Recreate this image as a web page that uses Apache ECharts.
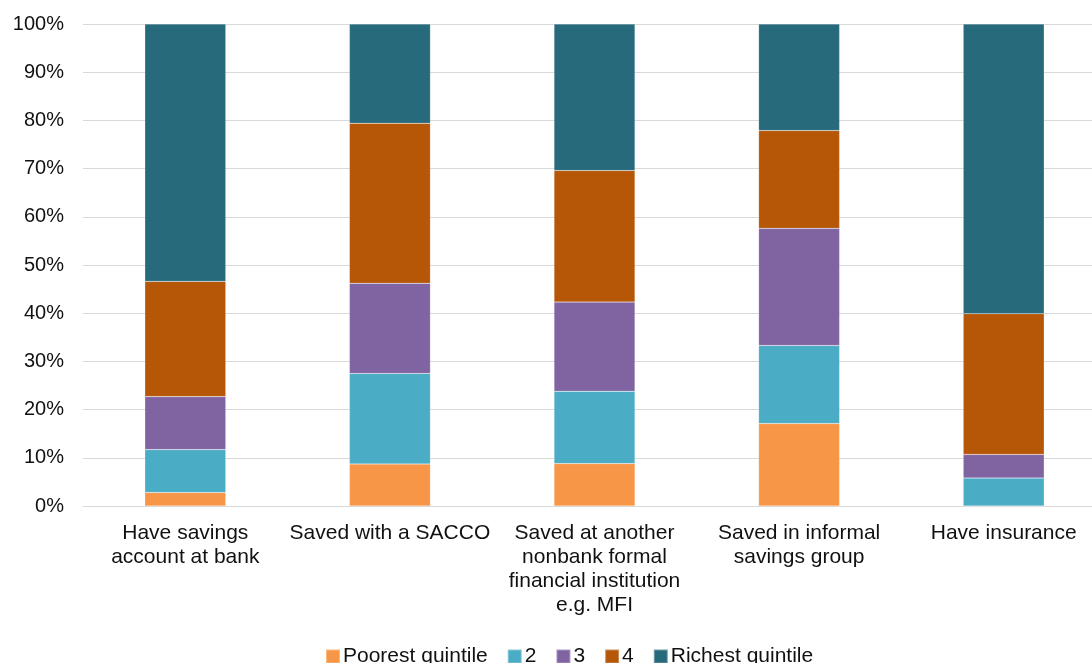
<!DOCTYPE html>
<html>
<head>
<meta charset="utf-8">
<script src="https://cdn.jsdelivr.net/npm/echarts@6/dist/echarts.min.js"></script>
<style>
html,body{margin:0;padding:0;background:#fff;}
#chart{width:1092px;height:663px;}
</style>
</head>
<body>
<div id="chart"></div>
<script>
const categories = [
  "Have savings\naccount at bank",
  "Saved with a SACCO",
  "Saved at another\nnonbank formal\nfinancial institution\ne.g. MFI",
  "Saved in informal\nsavings group",
  "Have insurance"
];
const seriesNames = ["Poorest quintile", "2", "3", "4", "Richest quintile"];
const poorest = [2.8, 8.7, 8.8, 17.1, 0];
const q2 = [8.9, 18.8, 15.0, 16.2, 5.8];
const q3 = [11.0, 18.7, 18.5, 24.3, 4.9];
const q4 = [23.9, 33.2, 27.3, 20.3, 29.2];
const richest = [53.4, 20.6, 30.4, 22.1, 60.1];
const colors = ["#F79646", "#4BACC6", "#8064A2", "#B65708", "#276A7C"];

const data = [poorest, q2, q3, q4, richest];
const chart = echarts.init(document.getElementById('chart'), null, {renderer: 'canvas'});
chart.setOption({
  animation: false,
  backgroundColor: '#fff',
  textStyle: {fontFamily: 'Liberation Sans, Arial, sans-serif'},
  grid: {left: 83, top: 24, width: 1023, bottom: 157, containLabel: false, outerBoundsMode: 'none'},
  legend: {
    top: 646,
    left: 325,
    padding: 0,
    itemWidth: 14,
    itemHeight: 14,
    itemGap: 19,
    icon: 'rect',
    textStyle: {fontSize: 21, color: '#111', padding: [0, 0, 0, -2]},
    data: seriesNames
  },
  xAxis: {
    type: 'category',
    data: categories,
    axisLine: {show: true, lineStyle: {color: '#d9d9d9', width: 1}},
    axisTick: {show: false},
    axisLabel: {fontSize: 21, color: '#111', lineHeight: 24, margin: 15, interval: 0}
  },
  yAxis: {
    type: 'value',
    min: 0,
    max: 100,
    interval: 10,
    axisLine: {show: false},
    axisTick: {show: false},
    splitLine: {lineStyle: {color: '#d9d9d9', width: 1}},
    axisLabel: {fontSize: 20, color: '#111', margin: 19, formatter: '{value}%'}
  },
  series: seriesNames.map((name, i) => ({
    name: name,
    type: 'bar',
    stack: 'total',
    barWidth: 81,
    data: data[i],
    itemStyle: {color: colors[i], borderColor: 'rgba(255,255,255,0.35)', borderWidth: 0.5}
  }))
});
</script>
</body>
</html>
